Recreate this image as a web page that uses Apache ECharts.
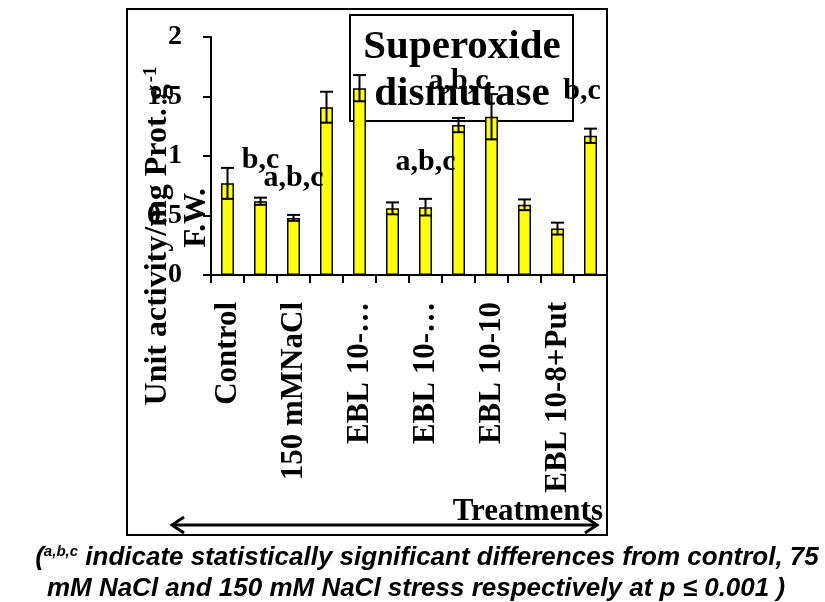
<!DOCTYPE html>
<html>
<head>
<meta charset="utf-8">
<script src="https://cdn.jsdelivr.net/npm/echarts@6/dist/echarts.min.js"></script>
<style>
html,body{margin:0;padding:0;background:#fff;}
#chart{width:825px;height:602px;}
</style>
</head>
<body>
<div id="chart"></div>
<script>
// ---- data ----
var categories = ["Control", "75 mMNaCl", "150 mMNaCl", "EBL 10-6", "EBL 10-…", "EBL 10-6+Put", "EBL 10-…", "EBL 10-8+75", "EBL 10-10", "EBL 10-10+150", "EBL 10-8+Put", "EBL 10-8+Put+150"];
var values = [0.77, 0.62, 0.48, 1.41, 1.57, 0.56, 0.57, 1.26, 1.33, 0.59, 0.39, 1.17];
var errors = [0.13, 0.03, 0.025, 0.13, 0.11, 0.05, 0.07, 0.06, 0.19, 0.045, 0.05, 0.06];
var annotations = ["", "b,c", "a,b,c", "", "", "", "a,b,c", "a,b,c", "", "", "", "b,c"];
var yTicks = [0, 0.5, 1, 1.5, 2];

var SERIF = '"Liberation Serif", "Times New Roman", serif';
var SANS = '"Liberation Sans", Arial, sans-serif';

var chart = echarts.init(document.getElementById('chart'), null, {renderer: 'canvas'});

var errData = values.map(function (v, i) { return [i, v, errors[i]]; });

var option = {
  animation: false,
  backgroundColor: '#ffffff',
  grid: {left: 211, top: 37, right: 218, bottom: 327, containLabel: false},
  xAxis: {
    type: 'category',
    data: categories,
    boundaryGap: true,
    axisLine: {show: true, lineStyle: {color: '#000', width: 2}},
    axisTick: {show: true, alignWithLabel: false, interval: 0, length: 8, lineStyle: {color: '#000', width: 2}},
    axisLabel: {
      interval: 1, rotate: 90, margin: 27,
      fontFamily: SERIF, fontWeight: 'bold', fontSize: 31, color: '#000'
    },
    splitLine: {show: false}
  },
  yAxis: {
    type: 'value',
    min: yTicks[0], max: yTicks[yTicks.length - 1], interval: 0.5,
    axisLine: {show: true, lineStyle: {color: '#000', width: 2}},
    axisTick: {show: true, length: 8, lineStyle: {color: '#000', width: 2}},
    axisLabel: {margin: 29, fontFamily: SERIF, fontWeight: 'bold', fontSize: 28, color: '#000'},
    splitLine: {show: false}
  },
  graphic: [
    {type: 'rect', z: 0, shape: {x: 127, y: 9, width: 480, height: 526},
      style: {fill: 'none', stroke: '#000', lineWidth: 2}},
    {type: 'rect', z: 0, shape: {x: 350, y: 15, width: 223, height: 106},
      style: {fill: '#fff', stroke: '#000', lineWidth: 2}},
    {type: 'text', z: 1, x: 462, y: 71,
      style: {text: 'Superoxide\ndismutase', align: 'center', verticalAlign: 'middle',
        font: 'bold 41px ' + SERIF, lineHeight: 47, fill: '#000'}},
    {type: 'text', z: 1, x: 158, y: 236, rotation: Math.PI / 2,
      style: {text: '{m|Unit activity/mg Prot. g}{s|-1}', align: 'center', verticalAlign: 'middle',
        rich: {
          m: {font: 'bold 32px ' + SERIF, fill: '#000'},
          s: {font: 'bold 19px ' + SERIF, fill: '#000', verticalAlign: 'top', padding: [0, 0, 14, 2]}
        }}},
    {type: 'text', z: 1, x: 197, y: 218, rotation: Math.PI / 2,
      style: {text: 'F.W.', align: 'center', verticalAlign: 'middle', font: 'bold 31px ' + SERIF, fill: '#000'}},
    {type: 'text', z: 1, x: 603, y: 512,
      style: {text: 'Treatments', align: 'right', verticalAlign: 'middle', font: 'bold 31px ' + SERIF, fill: '#000'}},
    {type: 'polyline', z: 1, shape: {points: [[172, 525], [597, 525]]},
      style: {stroke: '#000', lineWidth: 3, fill: 'none'}},
    {type: 'polyline', z: 1, shape: {points: [[184, 517], [172, 525], [184, 533]]},
      style: {stroke: '#000', lineWidth: 3, fill: 'none'}},
    {type: 'polyline', z: 1, shape: {points: [[585, 517], [597, 525], [585, 533]]},
      style: {stroke: '#000', lineWidth: 3, fill: 'none'}},
    {type: 'text', z: 1, x: 427, y: 558,
      style: {text: '{n|(}{s|a,b,c}{n| indicate statistically significant differences from control, 75}',
        align: 'center', verticalAlign: 'middle',
        rich: {
          n: {font: 'italic bold 26px ' + SANS, fill: '#000'},
          s: {font: 'italic bold 15px ' + SANS, fill: '#000', verticalAlign: 'top', padding: [0, 0, 12, 0]}
        }}},
    {type: 'text', z: 1, x: 416, y: 589,
      style: {text: 'mM NaCl and 150 mM NaCl stress respectively at p \u2264 0.001 )',
        align: 'center', verticalAlign: 'middle', font: 'italic bold 26px ' + SANS, fill: '#000'}}
  ],
  series: [
    {
      type: 'bar',
      data: values,
      barWidth: 13,
      z: 3,
      itemStyle: {color: '#ffff00', borderColor: '#000', borderWidth: 1.5}
    },
    {
      type: 'custom',
      z: 4,
      data: errData,
      encode: {x: 0, y: 1},
      renderItem: function (params, api) {
        var i = api.value(0), v = api.value(1), e = api.value(2);
        var top = api.coord([i, v + e]);
        var bot = api.coord([i, v - e]);
        var hw = 6.5;
        var ls = {stroke: '#000', lineWidth: 2};
        var children = [
          {type: 'line', shape: {x1: top[0], y1: top[1], x2: bot[0], y2: bot[1]}, style: ls},
          {type: 'line', shape: {x1: top[0] - hw, y1: top[1], x2: top[0] + hw, y2: top[1]}, style: ls},
          {type: 'line', shape: {x1: bot[0] - hw, y1: bot[1], x2: bot[0] + hw, y2: bot[1]}, style: ls}
        ];
        var ann = annotations[i];
        if (ann) {
          var cx = Math.min(top[0], 582);
          children.push({type: 'text', style: {text: ann, x: cx, y: top[1] - 37,
            align: 'center', verticalAlign: 'middle', font: 'bold 30px ' + SERIF, fill: '#000'}});
        }
        return {type: 'group', children: children};
      }
    }
  ]
};
chart.setOption(option);
</script>
</body>
</html>
